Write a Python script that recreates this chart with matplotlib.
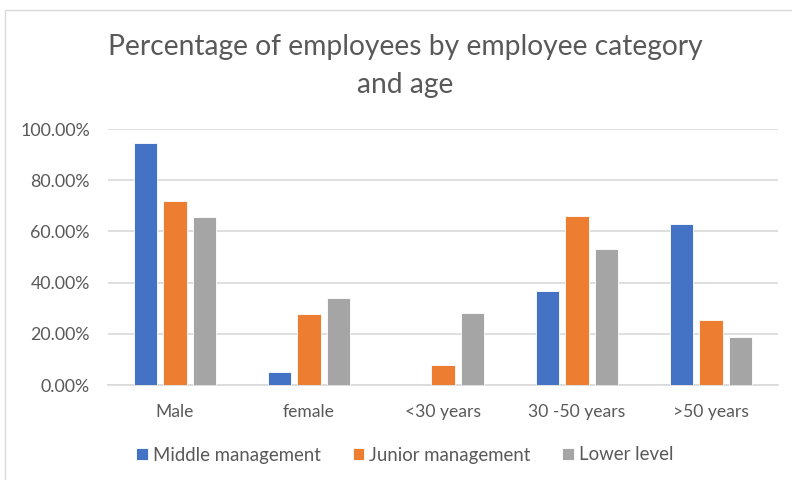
import numpy as np
import matplotlib.pyplot as plt
from matplotlib.ticker import PercentFormatter
from matplotlib.patches import Rectangle

plt.rcParams['font.family'] = ['Lato', 'DejaVu Sans']

categories = ['Male', 'female', '<30 years', '30 -50 years', '>50 years']
series = ['Middle management', 'Junior management', 'Lower level']
middle = [94.4, 5.1, 0.0, 36.6, 63.0]
junior = [72.0, 27.7, 7.8, 66.1, 25.3]
lower = [65.8, 33.9, 28.1, 53.0, 18.7]
colors = ['#4472C4', '#ED7D31', '#A5A5A5']

fig = plt.figure(figsize=(7.92, 4.8), dpi=100)
ax = fig.add_axes([108/792, 1 - 385/480, 670/792, 256/480])

x = np.arange(len(categories))
w = 0.172
step = 0.22
for i, (vals, name, c) in enumerate(zip([middle, junior, lower], series, colors)):
    ax.bar(x + (i - 1) * step, vals, w, color=c, label=name, zorder=3,
           edgecolor='white', linewidth=0.6)

ax.set_xlim(-0.5, len(categories) - 0.5)
ax.set_ylim(0, 100)
ax.set_yticks(np.arange(0, 101, 20))
ax.yaxis.set_major_formatter(PercentFormatter(decimals=2))
ax.set_xticks(x)
ax.set_xticklabels(categories)
ax.grid(axis='y', color='#D9D9D9', linewidth=1.2, zorder=0)
for s in ['top', 'right', 'left']:
    ax.spines[s].set_visible(False)
ax.spines['bottom'].set_color('#D9D9D9')
ax.spines['bottom'].set_linewidth(1.2)
ax.tick_params(axis='both', length=0, labelcolor='#595959')
ax.tick_params(axis='x', pad=14, labelsize=12.6)
ax.tick_params(axis='y', pad=13, labelsize=12.8)

fig.text(405/792, 1 - 47/480, 'Percentage of employees by employee category',
         ha='center', va='center', fontsize=20.3, color='#595959')
fig.text(405/792, 1 - 85/480, 'and age', ha='center', va='center',
         fontsize=20.3, color='#595959')

leg = fig.legend(loc='center', bbox_to_anchor=(405/792, 1 - 455/480), ncol=3,
                 frameon=False, fontsize=13.4, handlelength=0.6, handleheight=0.6,
                 handletextpad=0.3, columnspacing=1.7)
for t in leg.get_texts():
    t.set_color('#595959')

fig.patches.append(Rectangle((5/792, -0.1), 1.1, 1 - 10/480 + 0.1,
                             transform=fig.transFigure, fill=False,
                             edgecolor='#D9D9D9', linewidth=1))

fig.savefig('out.png', dpi=100)
